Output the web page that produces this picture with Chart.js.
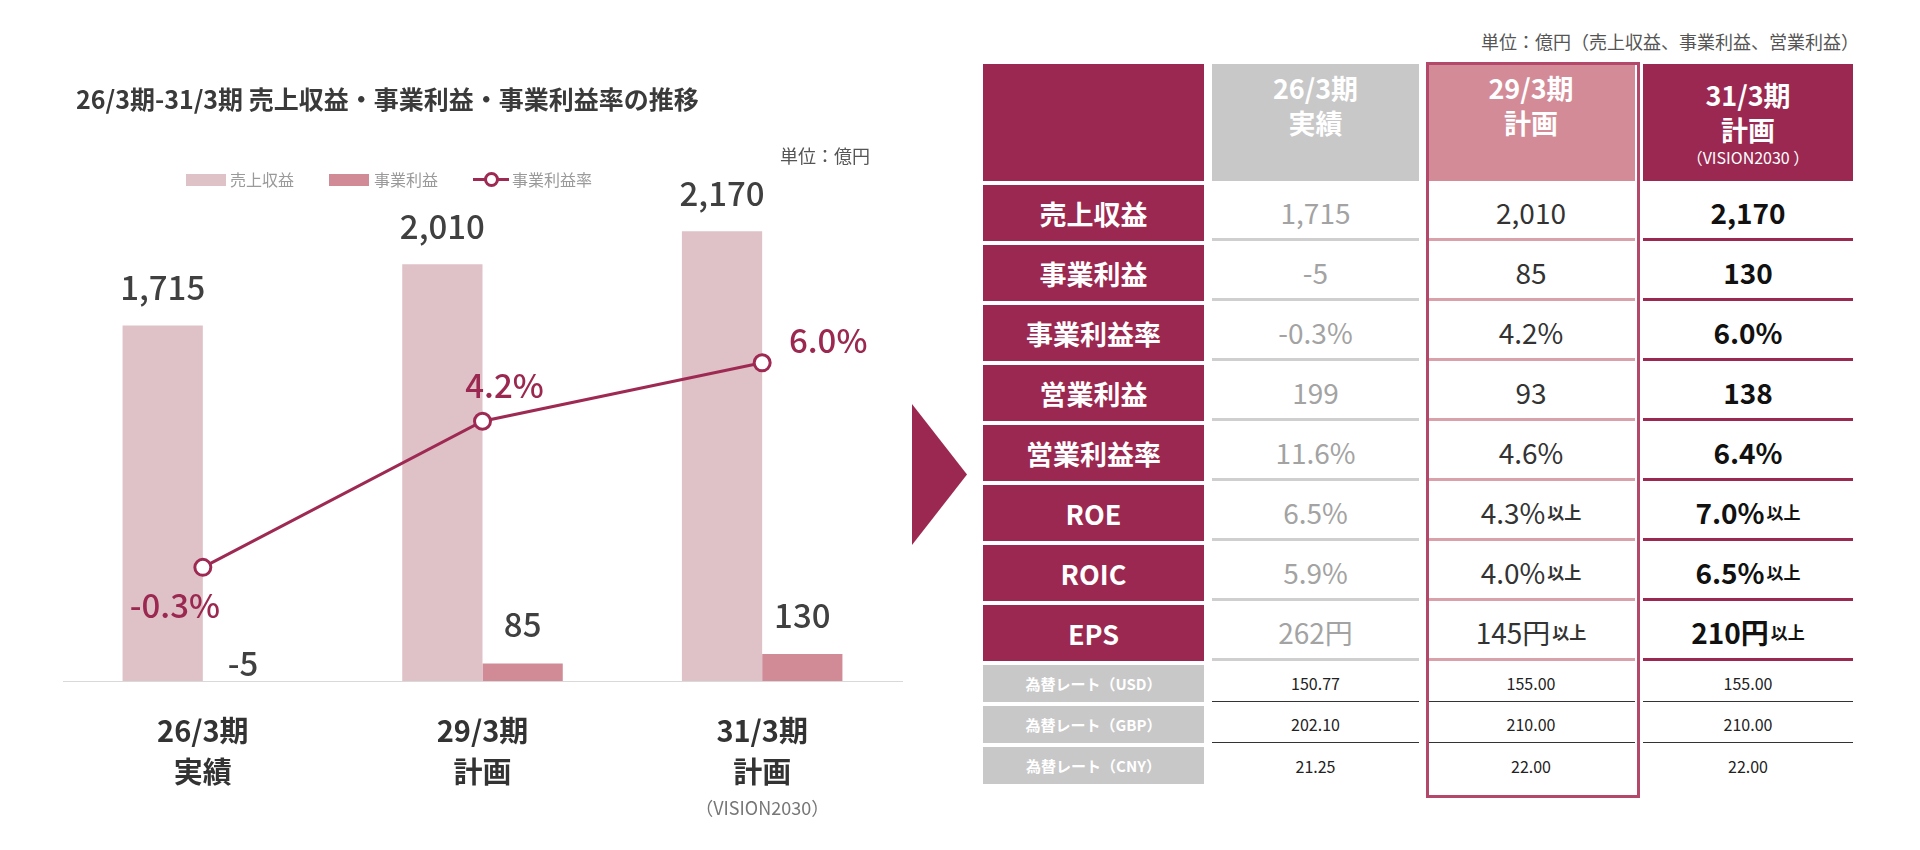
<!DOCTYPE html>
<html>
<head>
<meta charset="utf-8">
<script src="https://cdn.jsdelivr.net/npm/chart.js@4"></script>
<style>
  body { margin: 0; width: 1920px; height: 850px; background: #fff; position: relative; overflow: hidden;
         font-family: "Noto Sans CJK JP", "Noto Sans", sans-serif; }
  #chartWrap { position: absolute; left: 0; top: 0; width: 960px; height: 850px; }
  .abs { position: absolute; white-space: nowrap; }
  #title { left: 76px; top: 80px; font-size: 25px; font-weight: bold; color: #3a3a3a; }
  #unitL { left: 780px; top: 142px; font-size: 18px; color: #555; }
  .lg { top: 167px; font-size: 16px; color: #9a9a9a; }
  .lgbox { position: absolute; top: 174px; width: 40px; height: 12px; }
  #arrow { left: 912px; top: 404px; width: 55px; height: 141px; background: #9b2850;
           clip-path: polygon(0 0, 100% 50%, 0 100%); }
  #unitR { right: 61px; top: 28px; font-size: 18px; color: #555; }
  #tbl { position: absolute; left: 983px; top: 64px; display: grid;
         grid-template-columns: 221px 207px 208px 210px; column-gap: 8px;
         grid-template-rows: 117px repeat(8, 56px) repeat(3, 37px); row-gap: 4px; }
  #tbl div { display: flex; align-items: center; justify-content: center; text-align: center; }
  .rh { background: #9b2850; color: #fff; font-size: 27px; font-weight: bold; }
  .fxh { background: #c8c8c8; color: #fff; font-size: 15px; font-weight: bold; }
  .hd { flex-direction: column; color: #fff; font-size: 27px; font-weight: bold; line-height: 1.3; }
  .v { font-size: 28px; }
  .c1 { color: #a3a3a3; border-bottom: 3px solid #cfcfcf; }
  .c2 { color: #333; border-bottom: 3px solid #d9a2ab; }
  .c3 { color: #111; font-weight: bold; border-bottom: 3px solid #9b2850; }
  .fx { font-size: 16px; color: #222; }
  .fxl { border-bottom: 1px solid #333; }
  .sfx { font-size: 17px; font-weight: bold; margin-left: 2px; }
  #hl { position: absolute; left: 1426px; top: 62px; width: 208px; height: 730px; border: 3px solid #b3486b; }
</style>
</head>
<body>
<div id="chartWrap"><canvas id="c"></canvas></div>
<div class="abs" id="title">26/3期-31/3期 売上収益・事業利益・事業利益率の推移</div>
<div class="abs" id="unitL">単位：億円</div>
<div class="lgbox" style="left:186px;background:#dfc2c7"></div>
<div class="abs lg" style="left:230px">売上収益</div>
<div class="lgbox" style="left:329px;background:#d18b96"></div>
<div class="abs lg" style="left:374px">事業利益</div>
<div class="abs" style="left:473px;top:178px;width:36px;height:3px;background:#9e2a53"></div>
<div class="abs" style="left:484px;top:172px;width:9px;height:9px;border:3px solid #9e2a53;border-radius:50%;background:#fff"></div>
<div class="abs lg" style="left:512px">事業利益率</div>
<div class="abs" id="arrow"></div>
<div class="abs" id="unitR">単位：億円（売上収益、事業利益、営業利益）</div>
<div id="tbl"></div>
<div id="hl"></div>
<script>
// chart data
const categories = [["26/3期", "実績"], ["29/3期", "計画"], ["31/3期", "計画"]];
const categoryNotes = ["", "", "（VISION2030）"];
const revenue = [1715, 2010, 2170];
const bizProfit = [-5, 85, 130];
const bizMargin = [-0.3, 4.2, 6.0];

// table data
const tableCols = [["26/3期", "実績"], ["29/3期", "計画"], ["31/3期", "計画", "（VISION2030 ）"]];
const tableRows = ["売上収益", "事業利益", "事業利益率", "営業利益", "営業利益率", "ROE", "ROIC", "EPS"];
const tableActual = ["1,715", "-5", "-0.3%", "199", "11.6%", "6.5%", "5.9%", "262円"];
const tablePlan29 = ["2,010", "85", "4.2%", "93", "4.6%", "4.3%|以上", "4.0%|以上", "145円|以上"];
const tablePlan31 = ["2,170", "130", "6.0%", "138", "6.4%", "7.0%|以上", "6.5%|以上", "210円|以上"];
const fxRows = ["為替レート（USD）", "為替レート（GBP）", "為替レート（CNY）"];
const fxActual = ["150.77", "202.10", "21.25"];
const fxPlan29 = ["155.00", "210.00", "22.00"];
const fxPlan31 = ["155.00", "210.00", "22.00"];

(function () {
  "use strict";

  function buildTable() {
    const t = document.getElementById("tbl");
    const cell = (cls, html) => {
      const d = document.createElement("div");
      d.className = cls;
      d.innerHTML = html;
      t.appendChild(d);
    };
    const fmt = (s) => {
      const [a, b] = s.split("|");
      return b ? `${a}<span class="sfx">${b}</span>` : a;
    };
    const heads = ["#c8c8c8", "#d38c97", "#9b2850"];
    cell("rh", "");
    tableCols.forEach((c, i) => {
      const extra = c[2] ? `<span style="font-size:16px;font-weight:normal">${c[2]}</span>` : "";
      t.appendChild(Object.assign(document.createElement("div"), {
        className: "hd",
        innerHTML: `<span>${c[0]}</span><span>${c[1]}</span>${extra}`,
        style: `background:${heads[i]};justify-content:${c[2] ? "center" : "flex-start"};padding-top:${c[2] ? 0 : 6}px`,
      }));
    });
    tableRows.forEach((r, i) => {
      cell("rh", r);
      cell("v c1", fmt(tableActual[i]));
      cell("v c2", fmt(tablePlan29[i]));
      cell("v c3", fmt(tablePlan31[i]));
    });
    fxRows.forEach((r, i) => {
      const l = i < fxRows.length - 1 ? " fxl" : "";
      cell("fxh", r);
      cell("fx" + l, fxActual[i]);
      cell("fx" + l, fxPlan29[i]);
      cell("fx" + l, fxPlan31[i]);
    });
  }

  const pctOffsets = [[-28, 38], [22, -36], [66, -22]];

  const labelPlugin = {
    id: "labels",
    afterDatasetsDraw(chart) {
      const ctx = chart.ctx;
      ctx.save();
      ctx.textAlign = "center";
      ctx.textBaseline = "middle";
      ctx.font = "500 33px 'Noto Sans CJK JP'";
      ctx.fillStyle = "#404040";
      chart.getDatasetMeta(0).data.forEach((b, i) => {
        ctx.fillText(revenue[i].toLocaleString("en-US"), b.x, b.y - 38);
      });
      chart.getDatasetMeta(1).data.forEach((b, i) => {
        const y = bizProfit[i] < 0 ? b.base - 18 : b.y - 39;
        ctx.fillText(bizProfit[i].toLocaleString("en-US"), b.x, y);
      });
      ctx.fillStyle = "#9b2850";
      chart.getDatasetMeta(2).data.forEach((p, i) => {
        ctx.fillText(bizMargin[i].toFixed(1) + "%", p.x + pctOffsets[i][0], p.y + pctOffsets[i][1]);
      });
      const xs = chart.scales.x;
      categories.forEach((c, i) => {
        const x = xs.getPixelForValue(i);
        ctx.fillStyle = "#333";
        ctx.font = "bold 29px 'Noto Sans CJK JP'";
        ctx.fillText(c[0], x, 731);
        ctx.fillText(c[1], x, 772);
        if (categoryNotes[i]) {
          ctx.fillStyle = "#777";
          ctx.font = "18px 'Noto Sans CJK JP'";
          ctx.fillText(categoryNotes[i], x, 808);
        }
      });
      ctx.restore();
    },
  };

  buildTable();

  new Chart(document.getElementById("c"), {
    data: {
      labels: categories.map((c) => c.join(" ")),
      datasets: [
        { type: "bar", data: revenue, backgroundColor: "#dfc2c7", yAxisID: "y",
          barPercentage: 1, categoryPercentage: 0.574, order: 2 },
        { type: "bar", data: bizProfit, backgroundColor: "#d18b96", yAxisID: "y",
          barPercentage: 1, categoryPercentage: 0.574, order: 2 },
        { type: "line", data: bizMargin, yAxisID: "y2", borderColor: "#9e2a53", borderWidth: 3,
          pointRadius: 8, pointBorderWidth: 3, pointBackgroundColor: "#fff",
          pointBorderColor: "#9e2a53", order: 1 },
      ],
    },
    options: {
      responsive: true,
      maintainAspectRatio: false,
      animation: false,
      layout: { padding: { left: 63, right: 58, top: 142, bottom: 161 } },
      plugins: { legend: { display: false }, tooltip: { enabled: false } },
      scales: {
        x: { display: true, grid: { display: false }, ticks: { display: false },
             border: { display: true, color: "#d9d9d9", width: 1 } },
        y: { display: false, min: 0, max: 2600 },
        y2: { display: false, min: -3.8, max: 12.8 },
      },
    },
    plugins: [labelPlugin],
  });
})();
</script>
</body>
</html>
